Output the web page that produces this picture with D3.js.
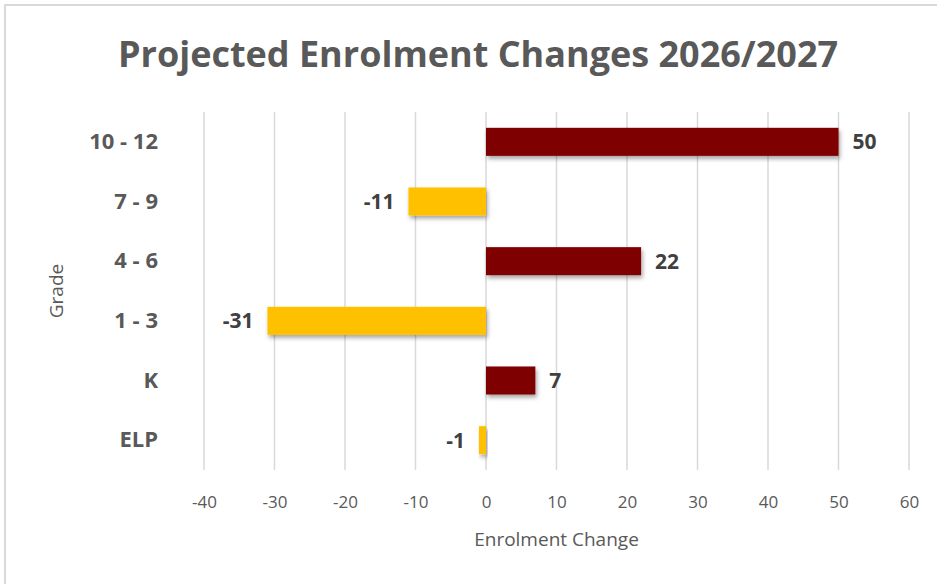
<!DOCTYPE html>
<html>
<head>
<meta charset="UTF-8">
<title>Projected Enrolment Changes 2026/2027</title>
<style>
    body { margin: 0; background: #fff; }
    .grid line { stroke: #d9d9d9; stroke-width: 1.5px; }
    .x.axis text { fill: #595959; font-size: 17px; font-family: "Open Sans", sans-serif; }
    .y.axis text { fill: #595959; font-size: 22px; font-weight: bold; font-family: "Open Sans", sans-serif; }
    .axis path, .axis line { display: none; }
</style>
</head>
<body>
<script src="https://cdn.jsdelivr.net/npm/d3@7/dist/d3.min.js"></script>
<script>
    var grades = ["10 - 12", "7 - 9", "4 - 6", "1 - 3", "K", "ELP"];
    var changes = [50, -11, 22, -31, 7, -1];
    var xTicks = [-40, -30, -20, -10, 0, 10, 20, 30, 40, 50, 60];

    var W = 937, H = 584;
    var margin = {top: 112, right: 28, bottom: 114, left: 204};
    var width = W - margin.left - margin.right,
        height = H - margin.top - margin.bottom;

    var svg = d3.select("body").append("svg")
        .attr("width", W)
        .attr("height", H);

    // shadow under bars
    var f = svg.append("defs").append("filter")
        .attr("id", "shadow")
        .attr("x", "-10%").attr("y", "-30%")
        .attr("width", "130%").attr("height", "190%");
    f.append("feDropShadow")
        .attr("dx", 1.5).attr("dy", 3)
        .attr("stdDeviation", 2)
        .attr("flood-color", "#000")
        .attr("flood-opacity", 0.35);

    // chart frame
    svg.append("rect")
        .attr("x", 5).attr("y", 5)
        .attr("width", W + 10).attr("height", H + 10)
        .attr("fill", "none")
        .attr("stroke", "#d9d9d9")
        .attr("stroke-width", 2);

    var g = svg.append("g")
        .attr("transform", `translate(${margin.left},${margin.top})`);

    var x = d3.scaleLinear().domain([-40, 60]).range([0, 705]);
    var y = d3.scaleBand().domain(grades).range([0, height]).paddingInner(0.53).paddingOuter(0.265);

    g.append("g")
        .attr("class", "grid")
        .selectAll("line")
        .data(xTicks)
        .enter().append("line")
        .attr("x1", (d) => x(d)).attr("x2", (d) => x(d))
        .attr("y1", 0).attr("y2", height);

    g.append("g")
        .attr("class", "x axis")
        .attr("transform", `translate(0,${height})`)
        .call(d3.axisBottom(x).tickValues(xTicks).tickFormat((d) => String(d)).tickSize(0).tickPadding(26));

    g.append("g")
        .attr("class", "y axis")
        .call(d3.axisLeft(y).tickSize(0).tickPadding(46));

    var data = grades.map((d, i) => ({grade: d, value: changes[i]}));

    g.selectAll(".bar")
        .data(data)
        .enter().append("rect")
        .attr("class", "bar")
        .attr("x", (d) => x(Math.min(0, d.value)))
        .attr("y", (d) => y(d.grade))
        .attr("width", (d) => Math.abs(x(d.value) - x(0)))
        .attr("height", y.bandwidth())
        .attr("fill", (d) => d.value < 0 ? "#ffc000" : "#7f0000")
        .attr("filter", "url(#shadow)");

    g.selectAll(".label")
        .data(data)
        .enter().append("text")
        .attr("class", "label")
        .attr("x", (d) => d.value < 0 ? x(d.value) - 14 : x(d.value) + 14)
        .attr("y", (d) => y(d.grade) + y.bandwidth() / 2)
        .attr("dy", "0.35em")
        .attr("text-anchor", (d) => d.value < 0 ? "end" : "start")
        .style("font-family", "Open Sans, sans-serif")
        .style("font-size", "21px")
        .style("font-weight", "bold")
        .style("fill", "#404040")
        .text((d) => d.value);

    svg.append("text")
        .attr("x", 478).attr("y", 67)
        .attr("text-anchor", "middle")
        .style("font-family", "Open Sans, sans-serif")
        .style("font-size", "36px")
        .style("font-weight", "bold")
        .style("fill", "#595959")
        .text("Projected Enrolment Changes 2026/2027");

    svg.append("text")
        .attr("x", margin.left + x(10))
        .attr("y", 546)
        .attr("text-anchor", "middle")
        .style("font-family", "Open Sans, sans-serif")
        .style("font-size", "19px")
        .style("fill", "#595959")
        .text("Enrolment Change");

    svg.append("text")
        .attr("transform", "translate(63,291) rotate(-90)")
        .attr("text-anchor", "middle")
        .style("font-family", "Open Sans, sans-serif")
        .style("font-size", "19px")
        .style("fill", "#595959")
        .text("Grade");
</script>
</body>
</html>
